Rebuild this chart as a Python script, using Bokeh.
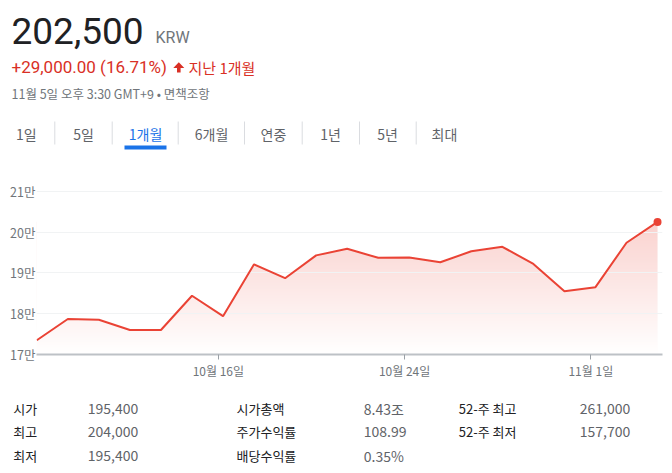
import numpy as np
from bokeh.plotting import figure
from bokeh.layouts import column
from bokeh.models import Range1d, FixedTicker
from bokeh.core.properties import value
from bokeh.embed import file_html
from bokeh.resources import INLINE

# ---------------- data ----------------
price_text = "202,500"
currency = "KRW"
change_text = "+29,000.00 (16.71%)"
period_text = "지난 1개월"
timestamp_text = "11월 5일 오후 3:30 GMT+9 • 면책조항"
tabs = ["1일", "5일", "1개월", "6개월", "연중", "1년", "5년", "최대"]
selected_tab = "1개월"

dates = ["2024-10-07", "2024-10-08", "2024-10-10", "2024-10-11", "2024-10-14",
         "2024-10-15", "2024-10-16", "2024-10-17", "2024-10-18", "2024-10-21",
         "2024-10-22", "2024-10-23", "2024-10-24", "2024-10-25", "2024-10-28",
         "2024-10-29", "2024-10-30", "2024-10-31", "2024-11-01", "2024-11-04",
         "2024-11-05"]
prices = [173500, 178700, 178500, 176000, 176000, 184400, 179400, 192100,
          188700, 194300, 195900, 193700, 193800, 192600, 195300, 196400,
          192200, 185500, 186500, 197400, 202500]

y_tick_values = [170000, 180000, 190000, 200000, 210000]
y_tick_labels = ["17만", "18만", "19만", "20만", "21만"]
x_tick_dates = ["2024-10-16", "2024-10-24", "2024-11-01"]
x_tick_labels = ["10월 16일", "10월 24일", "11월 1일"]

stat_names_1 = ["시가", "최고", "최저"]
stat_vals_1 = ["195,400", "204,000", "195,400"]
stat_names_2 = ["시가총액", "주가수익률", "배당수익률"]
stat_vals_2 = ["8.43조", "108.99", "0.35%"]
stat_names_3 = ["52-주 최고", "52-주 최저"]
stat_vals_3 = ["261,000", "157,700"]

# ---------------- styles ----------------
KR = value("Noto Sans CJK KR")
RB = value("Roboto")
RED = "#ea4335"
TXT_RED = "#d93025"
GRAY = "#70757a"
DARK = "#202124"
BLUE = "#1a73e8"
W = 672


def blank_fig(h):
    f = figure(width=W, height=h, x_range=Range1d(0, W), y_range=Range1d(h, 0),
               output_backend="svg", toolbar_location=None, min_border=0,
               min_border_left=0, min_border_right=0, min_border_top=0, min_border_bottom=0,
               background_fill_color="white", border_fill_color="white")
    f.axis.visible = False
    f.grid.visible = False
    f.outline_line_color = None
    f.frame_align = False
    return f


# ---------------- header ----------------
HH = 175
hdr = blank_fig(HH)
hdr.text(x=[11], y=[30], text=[price_text], text_font=RB, text_font_size="37px",
         text_color=DARK, text_baseline="middle")
hdr.text(x=[155], y=[36.5], text=[currency], text_font=RB, text_font_size="16px",
         text_color=GRAY, text_baseline="middle")
hdr.text(x=[11], y=[66.5], text=[change_text], text_font=RB, text_font_size="17px",
         text_color=TXT_RED, text_baseline="middle")
# up arrow
ax0, ay0 = 178.3, 61.7
hdr.patch(x=[ax0, ax0 + 5.5, ax0 + 1.8, ax0 + 1.8, ax0 - 1.8, ax0 - 1.8, ax0 - 5.5],
          y=[ay0, ay0 + 5.8, ay0 + 5.8, ay0 + 10.3, ay0 + 10.3, ay0 + 5.8, ay0 + 5.8],
          fill_color=TXT_RED, line_color=None)
hdr.text(x=[188], y=[66.5], text=[period_text], text_font=KR, text_font_size="15px",
         text_color=TXT_RED, text_baseline="middle")
hdr.text(x=[11], y=[92.5], text=[timestamp_text], text_font=KR, text_font_size="12.5px",
         text_color=GRAY, text_baseline="middle")

tab_x = [25.8, 83, 145, 211, 273, 330, 387, 444]
sep_x = [54.3, 111.7, 177.7, 244, 301.7, 359, 415.7]
hdr.text(x=tab_x, y=[133.5] * len(tabs), text=tabs, text_font=KR, text_font_size="14px",
         text_color=[BLUE if t == selected_tab else "#5f6368" for t in tabs],
         text_align="center", text_baseline="middle")
hdr.segment(x0=sep_x, x1=sep_x, y0=[121] * len(sep_x), y1=[144] * len(sep_x),
            line_color="#dadce0", line_width=1)
sel = tabs.index(selected_tab)
hdr.quad(left=[tab_x[sel] - 21], right=[tab_x[sel] + 21], top=[145], bottom=[149],
         fill_color=BLUE, line_color=None)

# ---------------- chart ----------------
xs = list(range(len(prices)))
Y0 = y_tick_values[0]
Y_TOP = 212650
ch = figure(width=W, height=210, x_range=Range1d(-0.01, 20.16), y_range=Range1d(Y0, Y_TOP),
            output_backend="svg", toolbar_location=None,
            min_border_left=36, min_border_right=10, min_border_top=5, min_border_bottom=31,
            background_fill_color="white", border_fill_color="white")
ch.outline_line_color = None
ch.grid.visible = False
ch.frame_align = False

# gradient fill under the line
N = 256
pmax = max(prices)
alpha = np.linspace(0.0, 0.24, N)
rgb = np.array([234, 67, 53], dtype=float)
img = np.empty((N, 2, 4), dtype=np.uint8)
for i in range(N):
    c = 255 * (1 - alpha[i]) + rgb * alpha[i]
    img[i, :, 0:3] = np.round(c).astype(np.uint8)
    img[i, :, 3] = 255
img32 = img.view(np.uint32).reshape(N, 2)
ch.image_rgba(image=[img32], x=xs[0], y=Y0, dw=xs[-1] - xs[0], dh=pmax - Y0)
ch.varea(x=xs, y1=prices, y2=Y_TOP, fill_color="white")
ch.hspan(y=y_tick_values[1:], line_color="#f1f3f4", line_width=1)
ch.line(xs, prices, line_color=RED, line_width=2)
ch.scatter([xs[-1]], [prices[-1]], size=8, fill_color=RED, line_color=None)

ch.yaxis.ticker = FixedTicker(ticks=y_tick_values)
ch.yaxis.major_label_overrides = {v: l for v, l in zip(y_tick_values, y_tick_labels)}
ch.yaxis.axis_line_color = None
ch.yaxis.major_tick_line_color = None
ch.yaxis.minor_tick_line_color = None
ch.yaxis.major_tick_out = 0
ch.yaxis.major_tick_in = 0
ch.yaxis.major_label_standoff = 1
ch.yaxis.major_label_text_font = "Noto Sans CJK KR"
ch.yaxis.major_label_text_font_size = "12.5px"
ch.yaxis.major_label_text_color = GRAY

x_tick_pos = [dates.index(d) - 0.15 for d in x_tick_dates]
ch.xaxis.ticker = FixedTicker(ticks=x_tick_pos)
ch.xaxis.major_label_overrides = {v: l for v, l in zip(x_tick_pos, x_tick_labels)}
ch.xaxis.axis_line_color = "#bdc1c6"
ch.xaxis.axis_line_width = 2
ch.xaxis.major_tick_line_color = "#9aa0a6"
ch.xaxis.major_tick_out = 5
ch.xaxis.major_tick_in = 0
ch.xaxis.minor_tick_line_color = None
ch.xaxis.major_label_standoff = 2
ch.xaxis.major_label_text_font = "Noto Sans CJK KR"
ch.xaxis.major_label_text_font_size = "12px"
ch.xaxis.major_label_text_color = GRAY

# ---------------- stats table ----------------
TH = 473 - HH - 210
tb = blank_fig(TH)
row_y = [23.3, 46, 70]
col_x = [12.7, 87.3, 236, 363.3, 458.3, 579.3]
for names, vals, cn, cv in [(stat_names_1, stat_vals_1, col_x[0], col_x[1]),
                            (stat_names_2, stat_vals_2, col_x[2], col_x[3]),
                            (stat_names_3, stat_vals_3, col_x[4], col_x[5])]:
    ys = row_y[:len(names)]
    tb.text(x=[cn] * len(names), y=ys, text=names, text_font=KR, text_font_size="13px",
            text_color=DARK, text_baseline="middle")
    tb.text(x=[cv] * len(vals), y=ys, text=vals, text_font=KR, text_font_size="14px",
            text_color="#5f6368", text_baseline="middle")

layout = column(hdr, ch, tb, spacing=0)
open("out.html", "w").write(file_html(layout, INLINE))
